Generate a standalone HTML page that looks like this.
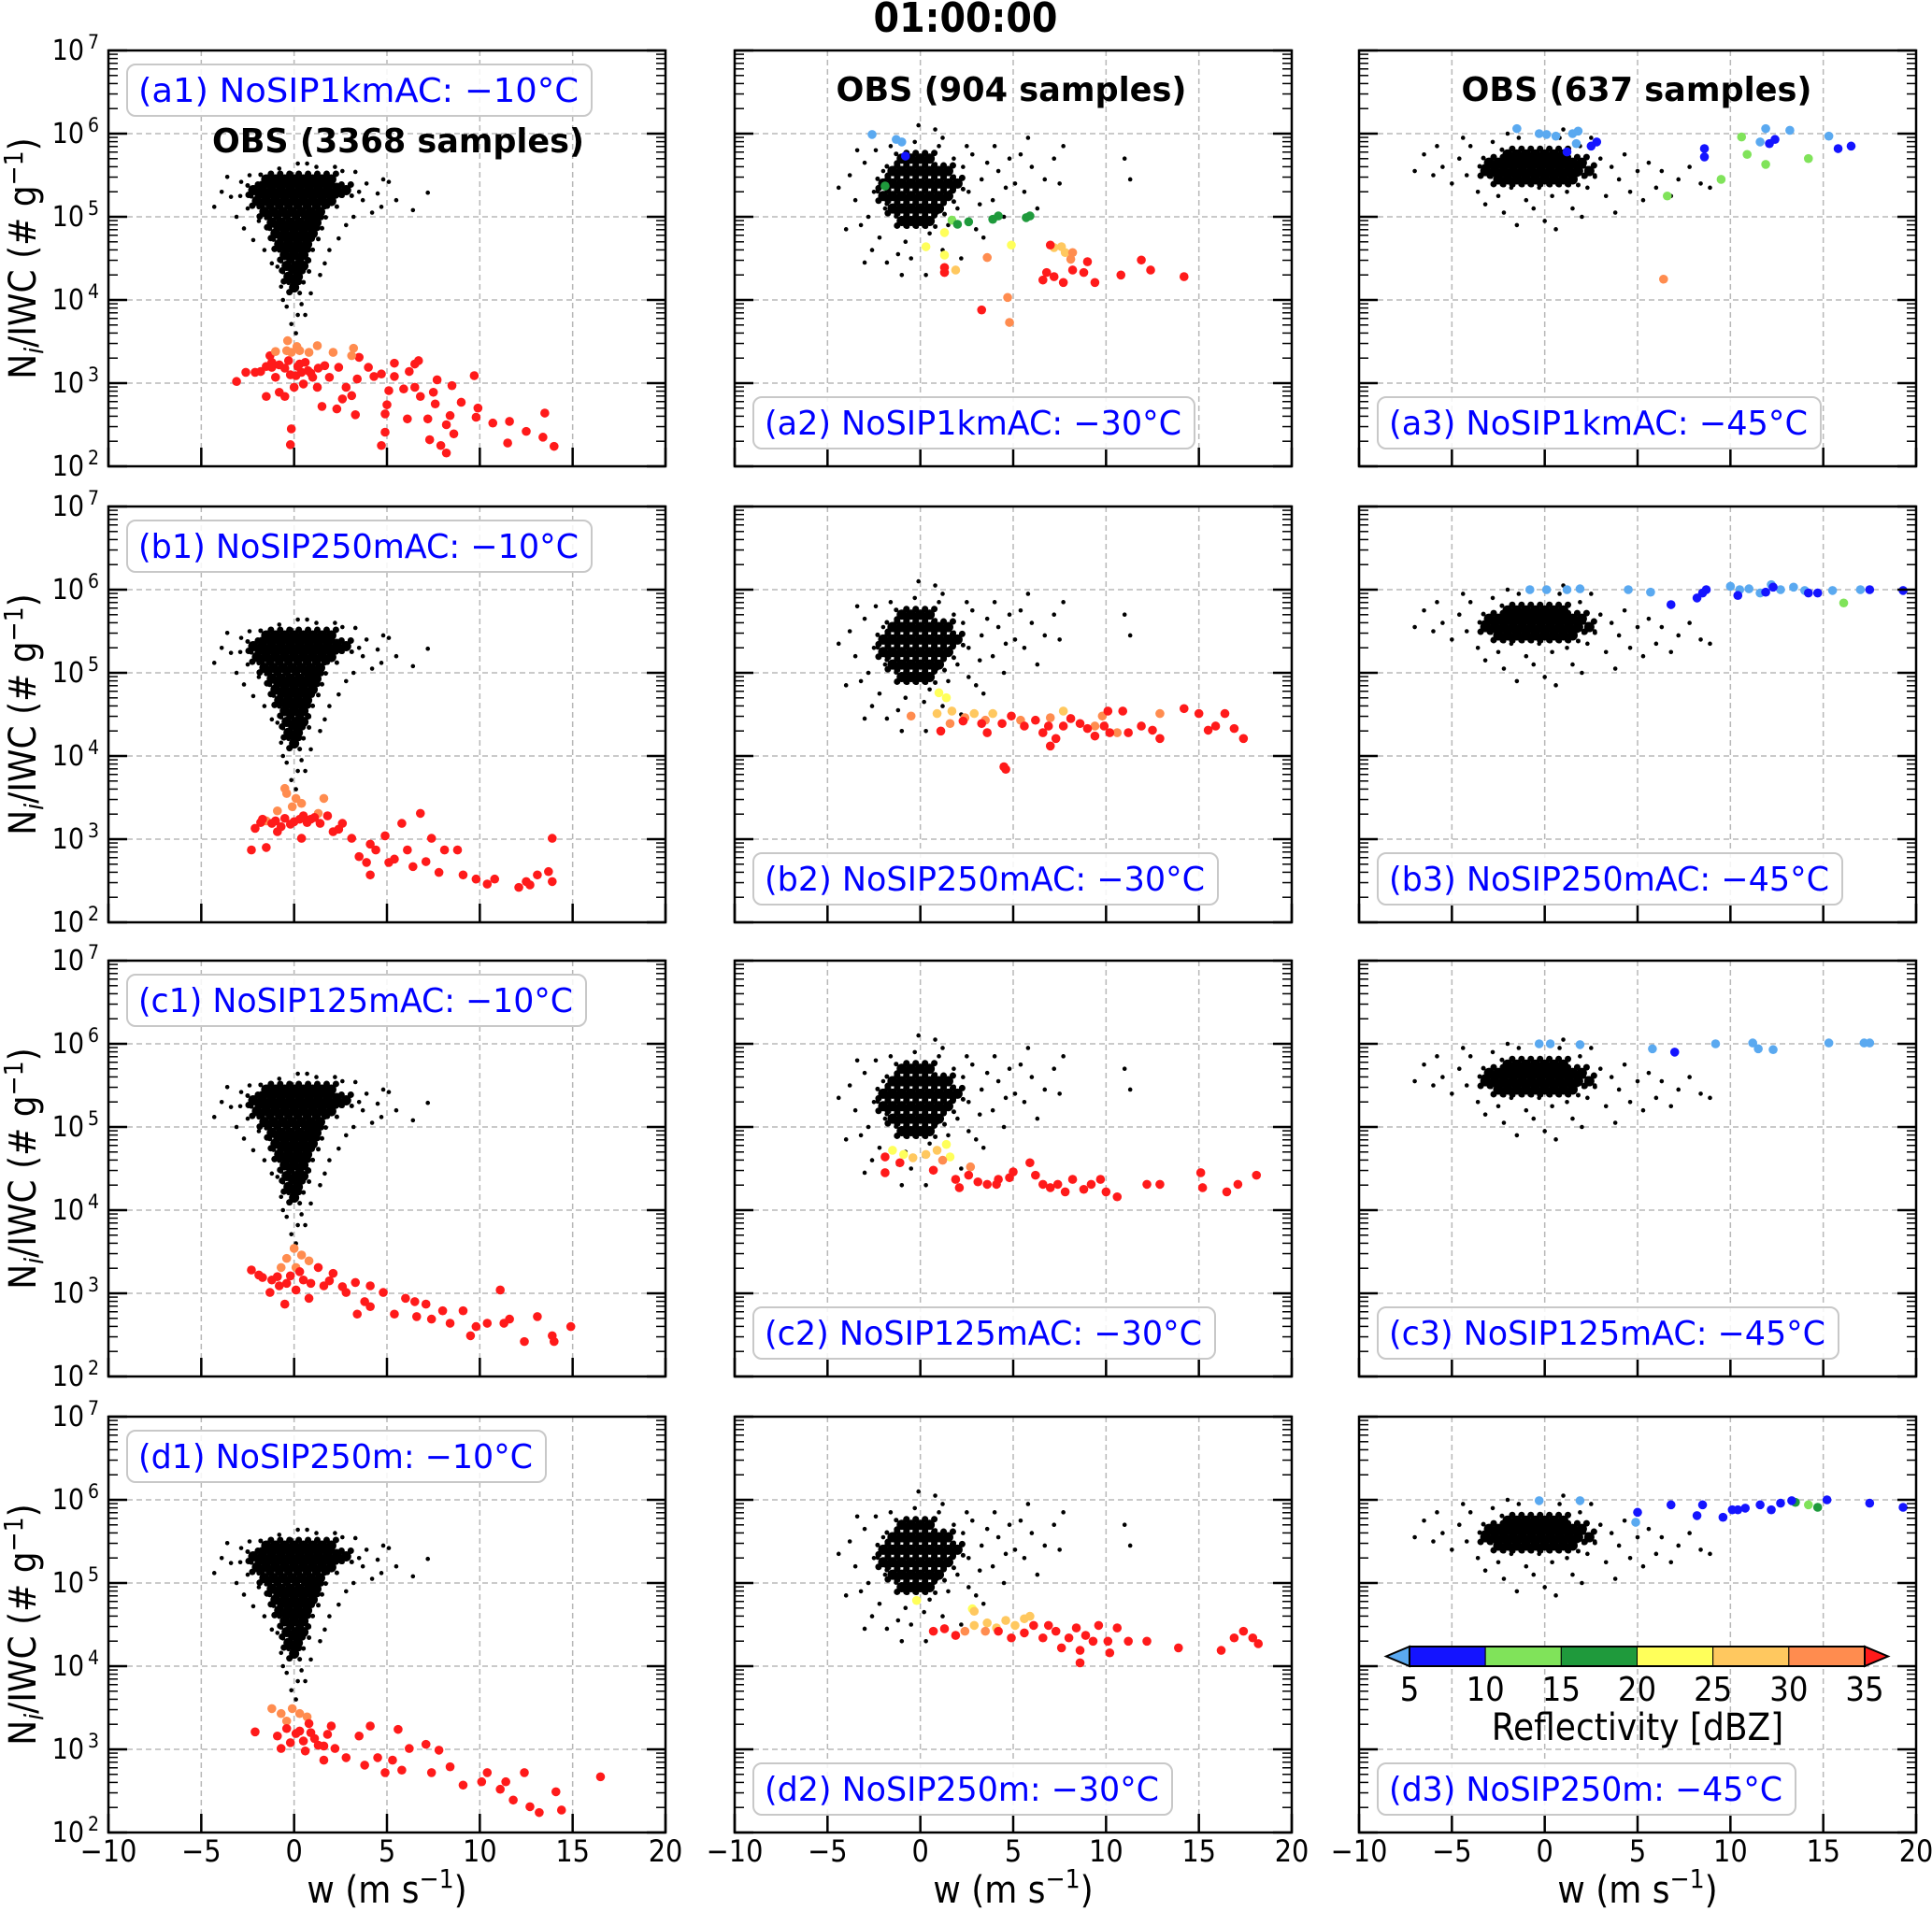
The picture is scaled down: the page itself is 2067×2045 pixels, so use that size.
<!DOCTYPE html>
<html><head><meta charset="utf-8">
<style>
html,body{margin:0;padding:0;background:#fff}
svg{display:block}
text{font-family:"DejaVu Sans Condensed","DejaVu Sans","Liberation Sans",sans-serif}
</style></head>
<body>
<svg id="fig" width="2067" height="2045" viewBox="0 0 2067 2045" xmlns="http://www.w3.org/2000/svg">
<text x="1033" y="34" text-anchor="middle" font-size="44" font-weight="bold">01:00:00</text>
</svg>
<script>
// ---------- axis data ----------
const xTicks = [-10,-5,0,5,10,15,20];
const xTickLabels = ["\u221210","\u22125","0","5","10","15","20"];
const yDecades = [2,3,4,5,6,7];
const cbBounds = [5,10,15,20,25,30,35];
const cbColors = ["#1414ff","#80e35a","#1f9a3c","#ffff5a","#ffc85f","#ff8c4f"];
const cbUnder = "#5aa9f0";
const cbOver = "#ff1a1a";
const panelLabels = [
 ["(a1) NoSIP1kmAC: \u221210\u00b0C","(a2) NoSIP1kmAC: \u221230\u00b0C","(a3) NoSIP1kmAC: \u221245\u00b0C"],
 ["(b1) NoSIP250mAC: \u221210\u00b0C","(b2) NoSIP250mAC: \u221230\u00b0C","(b3) NoSIP250mAC: \u221245\u00b0C"],
 ["(c1) NoSIP125mAC: \u221210\u00b0C","(c2) NoSIP125mAC: \u221230\u00b0C","(c3) NoSIP125mAC: \u221245\u00b0C"],
 ["(d1) NoSIP250m: \u221210\u00b0C","(d2) NoSIP250m: \u221230\u00b0C","(d3) NoSIP250m: \u221245\u00b0C"]];
const obsLabels = ["OBS (3368 samples)","OBS (904 samples)","OBS (637 samples)"];

// ---------- OBS data: [w, log10(Ni/IWC)] ----------
const obsCore10 = [
[-1.5,5.45],[-1,5.45],[-0.5,5.45],[0,5.45],[0.5,5.45],[1,5.45],[1.5,5.45],[2,5.45],
[-2.2,5.32],[-1.7,5.32],[-1.2,5.32],[-0.7,5.32],[-0.2,5.32],[0.3,5.32],[0.8,5.32],[1.3,5.32],[1.8,5.32],[2.3,5.32],[2.8,5.32],
[-2,5.19],[-1.5,5.19],[-1,5.19],[-0.5,5.19],[0,5.19],[0.5,5.19],[1,5.19],[1.5,5.19],[2,5.19],
[-1.6,5.06],[-1.1,5.06],[-0.6,5.06],[-0.1,5.06],[0.4,5.06],[0.9,5.06],[1.4,5.06],
[-1.2,4.93],[-0.7,4.93],[-0.2,4.93],[0.3,4.93],[0.8,4.93],[1.2,4.93],
[-1,4.8],[-0.5,4.8],[0,4.8],[0.5,4.8],[1,4.8],
[-0.8,4.67],[-0.3,4.67],[0.2,4.67],[0.7,4.67],
[-0.5,4.54],[0,4.54],[0.5,4.54],[-0.4,4.41],[0.1,4.41],[0.5,4.41],[-0.3,4.28],[0.2,4.28],[0,4.15]];
const obsScatter10 = [
[-4.3,5.12],[-3.9,5.3],[-3.6,5.48],[-3.4,5.24],[-2.85,5.42],[-2.7,4.86],[-2.5,5.1],[-2.2,4.72],[-1.2,4.44],[-0.9,4.4],
[-0.7,4.16],[-0.4,3.92],[-0.15,3.71],[0.2,3.82],[0.6,3.82],[0.9,4.08],[1.65,4.44],[2.4,4.74],[3.2,5.0],[3.7,5.2],
[4.5,5.28],[5.1,5.42],[4.7,5.12],[6.4,5.08],[7.2,5.29],[0.2,5.64],[0.7,5.64],[2.2,5.6],[3.3,5.54],[-0.15,5.52],
[-1.4,5.44],[-2.4,5.5],[3.9,5.4],[4.2,5.05],[2.8,4.9],[1.9,4.6],[-1.6,4.6],[-1.9,4.95],[1.4,4.3],[-0.6,4.0],
[0.4,3.95],[0.1,3.6],[-3.1,5.0],[3.5,5.3],[4.8,5.45],[2.6,5.55],[-0.8,5.58],[1.2,5.6],[-2.9,5.25],[5.5,5.2]];
const obsCore30 = [
[-1,5.7],[-0.5,5.7],[0,5.7],[0.5,5.7],
[-1.5,5.55],[-1,5.55],[-0.5,5.55],[0,5.55],[0.5,5.55],[1,5.55],[1.5,5.55],
[-2,5.4],[-1.5,5.4],[-1,5.4],[-0.5,5.4],[0,5.4],[0.5,5.4],[1,5.4],[1.5,5.4],[2,5.4],
[-2,5.25],[-1.5,5.25],[-1,5.25],[-0.5,5.25],[0,5.25],[0.5,5.25],[1,5.25],[1.5,5.25],
[-1.5,5.1],[-1,5.1],[-0.5,5.1],[0,5.1],[0.5,5.1],[1,5.1],
[-1,4.95],[-0.5,4.95],[0,4.95],[0.5,4.95]];
const obsScatter30 = [
[-4.4,5.35],[-3.8,5.5],[-3.5,5.2],[-3,5.65],[-3.2,4.9],[-2.8,5.0],[-2.6,4.6],[-2.4,5.8],[-2.2,4.75],[-1.8,4.45],
[-1.6,5.85],[-1.2,4.55],[-0.8,4.7],[-0.5,4.5],[-0.3,5.9],[0.2,4.65],[0.5,4.8],[0.8,6.05],[1,5.85],[1.2,4.6],
[1.5,4.9],[1.8,5.7],[2,5.1],[2.3,5.6],[2.6,5.3],[2.8,5.75],[3,4.85],[3.3,5.45],[3.6,5.65],[3.9,5.2],
[4.2,5.55],[4.5,5.0],[4.8,5.7],[5.1,5.4],[5.4,5.75],[5.6,5.3],[6,5.6],[6.3,5.1],[7.2,5.7],[7.5,5.4],
[7.7,5.85],[3.4,4.75],[2.2,4.5],[-1,4.3],[0.3,4.3],[1.2,5.95],[-0.1,6.1],[4,5.85],[5.8,5.95],[-2,5.55],
[-2.5,5.3],[2.5,5.85],[3.2,5.15],[4.6,5.35],[1.6,5.3],[0.9,5.05],[-1.9,5.1],[6.7,5.45],[-3.4,5.8],[2.6,4.95],
[11,5.7],[11.3,5.45],[-4.0,4.85],[-3.0,4.45]];
const obsCore45 = [
[-2,5.75],[-1.5,5.75],[-1,5.75],[-0.5,5.75],[0,5.75],[0.5,5.75],[1,5.75],
[-3,5.65],[-2.5,5.65],[-2,5.65],[-1.5,5.65],[-1,5.65],[-0.5,5.65],[0,5.65],[0.5,5.65],[1,5.65],[1.5,5.65],[2,5.65],
[-3.2,5.55],[-2.7,5.55],[-2.2,5.55],[-1.7,5.55],[-1.2,5.55],[-0.7,5.55],[-0.2,5.55],[0.3,5.55],[0.8,5.55],[1.3,5.55],[1.8,5.55],[2.4,5.55],
[-2.5,5.45],[-2,5.45],[-1.5,5.45],[-1,5.45],[-0.5,5.45],[0,5.45],[0.5,5.45],[1,5.45],[1.5,5.45]];
const obsScatter45 = [
[-7,5.55],[-6.5,5.75],[-6,5.5],[-5.5,5.6],[-5,5.4],[-4.6,5.7],[-4.2,5.5],[-4,5.85],[-3.6,5.3],[-3.2,5.15],
[-2.8,5.9],[-2.5,5.25],[-2.2,5.05],[-1.8,5.35],[-1.4,5.95],[-1,5.2],[-0.6,5.1],[-0.3,5.35],[0,4.95],[0.4,5.25],
[0.8,5.95],[1.2,5.3],[1.5,5.1],[1.9,5.85],[2.3,5.35],[2.7,5.5],[3,5.7],[3.3,5.25],[3.6,5.6],[4,5.45],
[4.3,5.75],[4.6,5.3],[5,5.55],[5.3,5.2],[5.6,5.65],[6,5.35],[6.3,5.55],[6.8,5.25],[7.2,5.45],[7.8,5.6],
[8.4,5.4],[8.9,5.35],[-5.8,5.85],[3.8,5.05],[2,5.0],[-1.5,4.9],[0.6,4.85],[-4.4,5.95],[1,6.05],[-2,6.0],[2.5,5.95]];

// ---------- model data: [w, log10(Ni/IWC), dBZ] ----------
const modelA1 = [
[-3.1,3.02,38],[-2.6,3.13,38],[-2.1,3.13,38],[-1.8,3.14,38],[-1.5,2.84,38],[-1.3,3.33,38],[-1.2,3.19,38],[-1,3.07,38],[-0.8,2.89,38],[-0.5,2.84,38],
[-0.3,3.27,38],[-0.15,2.45,38],[-0.2,2.26,38],[0,2.95,38],[0.1,3.09,38],[0.3,3.23,38],[0.5,2.99,38],[0.75,3.15,38],[1,3.07,38],[1.25,2.95,38],
[1.5,2.72,38],[1.65,3.21,38],[1.9,3.07,38],[2.3,2.69,38],[2.4,3.19,38],[2.6,2.81,38],[2.8,2.95,38],[3.1,2.85,38],[3.3,2.62,38],[3.4,3.05,38],
[3.5,3.31,38],[4,3.19,38],[4.3,3.08,38],[4.7,3.11,38],[4.9,2.63,38],[4.9,2.41,38],[5,2.74,38],[5.1,2.91,38],[4.7,2.25,38],[5.4,3.24,38],
[5.4,3.08,38],[5.9,2.93,38],[6.1,2.57,38],[6.2,3.14,38],[6.5,2.95,38],[6.5,3.23,38],[6.7,3.27,38],[6.8,2.84,38],[7.2,2.57,38],[7.3,2.32,38],
[7.5,2.89,38],[7.7,3.04,38],[7.6,2.75,38],[7.9,2.25,38],[8.2,2.16,38],[8.2,2.5,38],[8.4,2.61,38],[8.5,2.97,38],[8.6,2.39,38],[9,2.77,38],
[9.7,3.09,38],[9.8,2.59,38],[9.9,2.7,38],[10.7,2.52,38],[11.5,2.28,38],[11.6,2.54,38],[12.5,2.42,38],[13.4,2.35,38],[13.5,2.64,38],[14,2.24,38],
[-1.2,3.25,38],[-0.8,3.22,38],[-0.5,3.18,38],[0.2,3.2,38],[0.6,3.25,38],[1.3,3.18,38],[-1.5,3.2,38],[0.9,3.12,38],[-0.2,3.1,38],[0.4,3.13,38],
[-1,3.38,32],[-0.35,3.51,32],[-0.15,3.37,32],[0.15,3.44,32],[0.3,3.39,32],[0.8,3.37,32],[1.25,3.45,32],[2.1,3.37,32],[3.2,3.42,32],[3.1,3.33,32],[-0.4,3.39,32]];
const modelA2 = [
[-2.6,5.99,3],[-1.3,5.93,3],[-1,5.9,3],[-0.8,5.73,7],[-1.9,5.37,17],[1.7,4.96,12],[2,4.91,17],[2.6,4.94,17],[3.9,4.97,17],[4.2,5.01,17],
[5.7,4.99,17],[5.9,5.01,17],[1.3,4.81,22],[1.3,4.54,22],[0.3,4.64,22],[4.9,4.66,22],[7.6,4.64,27],[7.8,4.57,27],[1.9,4.36,27],[3.6,4.51,32],
[7.2,4.63,27],[8.2,4.57,32],[8.1,4.49,32],[1.3,4.39,38],[1.3,4.33,38],[3.3,3.88,38],[4.7,4.03,32],[4.8,3.73,32],[7,4.66,38],[6.6,4.24,38],
[6.8,4.33,38],[7.2,4.28,38],[7.7,4.21,38],[8.2,4.36,38],[8.8,4.33,38],[9,4.46,38],[9.4,4.21,38],[10.8,4.3,38],[11.9,4.48,38],[12.4,4.36,38],[14.2,4.28,38]];
const modelA3 = [
[-1.5,6.06,3],[-0.3,6,3],[0.1,5.99,3],[0.6,5.97,3],[1.5,6,3],[1.8,6.03,3],[1.2,5.78,7],[2.5,5.85,7],[2.8,5.9,7],[1.7,5.88,3],
[8.6,5.82,7],[8.6,5.72,7],[10.6,5.96,12],[10.9,5.75,12],[11.6,5.9,3],[11.9,6.06,3],[12.1,5.88,7],[12.4,5.93,7],[13.2,6.04,3],[11.9,5.63,12],
[14.2,5.7,12],[15.3,5.97,3],[15.8,5.82,7],[16.5,5.85,7],[9.5,5.45,12],[6.6,5.25,12],[6.4,4.25,32]];
const modelB1 = [
[-0.4,3.55,32],[0.1,3.49,32],[-0.1,3.39,32],[0.4,3.43,32],[-0.9,3.34,32],[1.3,3.31,32],[-1.5,3.22,32],[1.6,3.49,32],[-0.5,3.61,32],
[-2.3,2.87,38],[-2.1,3.13,38],[-1.7,3.24,38],[-1.2,3.19,38],[-0.9,3.09,38],[-0.5,3.25,38],[0,3.21,38],[0.5,3.28,38],[0.9,3.24,38],[1.4,3.19,38],
[1.8,3.28,38],[2.1,3.09,38],[2.6,3.19,38],[3.1,3.01,38],[3.5,2.79,38],[3.9,2.72,38],[4.1,2.94,38],[4.4,2.87,38],[4.9,3.04,38],[5.4,2.76,38],
[5.8,3.19,38],[6.1,2.87,38],[6.4,2.67,38],[6.8,3.31,38],[7.1,2.73,38],[7.4,3.01,38],[7.8,2.6,38],[8.1,2.87,38],[8.8,2.87,38],[9.1,2.57,38],
[9.8,2.52,38],[10.4,2.46,38],[10.8,2.52,38],[12.1,2.42,38],[12.5,2.49,38],[12.7,2.45,38],[13.1,2.57,38],[13.7,2.61,38],[13.9,3.01,38],[13.9,2.49,38],
[0.4,3.01,38],[-1.5,2.9,38],[4.1,2.57,38],[5.1,2.72,38],
[-1.8,3.2,38],[-1.0,3.22,38],[-0.2,3.18,38],[0.7,3.2,38],[1.1,3.26,38],[-0.7,3.15,38],[0.3,3.24,38],[2.4,3.12,38]];
const modelB2 = [
[-0.5,4.48,32],[0.9,4.51,27],[1.7,4.54,27],[2.4,4.46,32],[2.9,4.51,27],[3.5,4.43,32],[3.9,4.51,27],[1.6,4.39,32],[5.4,4.43,32],[7,4.46,32],
[7.7,4.54,27],[9.4,4.36,32],[9.8,4.48,32],[10.6,4.28,32],[12.9,4.51,32],[1,4.76,22],[1.4,4.7,22],
[1.1,4.3,38],[2.3,4.42,38],[3.3,4.39,38],[3.6,4.28,38],[4.4,4.39,38],[4.9,4.48,38],[5.6,4.36,38],[6.2,4.43,38],[6.6,4.28,38],
[6.9,4.36,38],[7.3,4.21,38],[7.7,4.36,38],[8.1,4.45,38],[8.6,4.39,38],[9,4.33,38],[9.4,4.24,38],[9.9,4.36,38],[10.1,4.54,38],[10.2,4.28,38],
[10.9,4.54,38],[11.2,4.28,38],[11.9,4.36,38],[12.5,4.31,38],[12.9,4.21,38],[14.2,4.57,38],[15,4.51,38],[15.5,4.31,38],[15.9,4.36,38],[16.4,4.51,38],
[16.9,4.33,38],[17.4,4.21,38],[4.5,3.87,38],[4.6,3.84,38],[7,4.12,38]];
const modelB3 = [
[-0.8,6,3],[0.1,6,3],[1.2,6,3],[1.9,6.01,3],[4.5,6,3],[5.7,5.97,3],[10,6.04,3],[10.5,6,3],[11,6.01,3],[11.6,5.96,3],
[12.2,6.06,3],[12.7,6,3],[13.4,6.03,3],[14,5.99,3],[15.5,5.99,3],[17,6,3],
[6.8,5.82,7],[8.2,5.9,7],[8.7,6,7],[8.5,5.96,7],[12.3,6.03,7],[14.2,5.96,7],[14.7,5.96,7],[17.5,6,7],[19.3,5.99,7],[10.4,5.93,7],[11.9,5.97,7],
[16.1,5.84,12]];
const modelC1 = [
[0,3.54,32],[0.4,3.46,32],[-0.4,3.42,32],[-0.7,3.31,32],[0.8,3.39,32],[0.1,3.31,32],
[-2.3,3.28,38],[-1.7,3.19,38],[-1.2,3.16,38],[-0.8,3.09,38],[-0.2,3.21,38],[0.5,3.16,38],[0.1,3.04,38],[1.3,3.31,38],[1.6,3.09,38],[2.1,3.24,38],
[2.8,3.01,38],[3.3,3.13,38],[3.8,2.9,38],[4.1,2.84,38],[4.8,3.01,38],[5.4,2.75,38],[6,2.94,38],[6.6,2.72,38],[7.1,2.87,38],[7.4,2.69,38],
[8,2.79,38],[8.4,2.64,38],[9.1,2.79,38],[9.8,2.6,38],[10.4,2.64,38],[11.1,3.04,38],[11.3,2.64,38],[11.6,2.69,38],[12.4,2.42,38],[13.1,2.72,38],
[13.9,2.49,38],[14,2.42,38],[14.9,2.6,38],[-0.5,2.87,38],[-1.3,3.01,38],[0.8,2.94,38],[4.1,3.09,38],[6.5,2.9,38],[3.4,2.75,38],[9.5,2.49,38],
[-1.9,3.22,38],[-0.9,3.2,38],[0.3,3.26,38],[0.9,3.12,38],[-0.4,3.12,38],[1.9,3.15,38],[2.6,3.08,38]];
const modelC2 = [
[-1.5,4.72,22],[-0.9,4.67,22],[1.4,4.79,22],[1.6,4.64,22],[-0.4,4.63,27],[0.3,4.67,27],[1.2,4.6,32],[2.7,4.52,32],[0.9,4.72,27],
[-1.9,4.64,38],[-1.9,4.45,38],[-1.1,4.57,38],[0.7,4.48,38],[1.9,4.37,38],[2.1,4.27,38],[2.6,4.42,38],[3.1,4.34,38],[3.6,4.31,38],[4.2,4.37,38],
[4.8,4.39,38],[5.9,4.57,38],[6.2,4.42,38],[6.6,4.31,38],[7,4.27,38],[7.4,4.31,38],[7.8,4.22,38],[8.2,4.37,38],[8.8,4.25,38],[9.2,4.31,38],
[9.7,4.37,38],[10,4.22,38],[10.6,4.16,38],[12.2,4.31,38],[12.9,4.31,38],[15.1,4.45,38],[15.2,4.27,38],[16.5,4.22,38],[17.1,4.31,38],[18.1,4.42,38],
[5,4.46,38],[4.1,4.31,38]];
const modelD1 = [
[-1.2,3.49,32],[-0.7,3.43,32],[-0.1,3.49,32],[0.3,3.43,32],[-0.4,3.34,32],[0.7,3.39,32],
[-2.1,3.21,38],[-0.9,3.16,38],[-0.4,3.25,38],[0.1,3.19,38],[0.5,3.1,38],[0.8,3.31,38],[1.1,3.13,38],[1.6,3.04,38],[2,3.28,38],[2.2,3.01,38],
[2.8,2.9,38],[3.5,3.16,38],[3.8,2.81,38],[4.1,3.28,38],[4.5,2.9,38],[4.9,2.72,38],[5.3,2.87,38],[5.6,3.24,38],[5.8,2.75,38],[6.2,3.01,38],
[7.1,3.06,38],[7.4,2.72,38],[7.8,2.99,38],[8.4,2.79,38],[9.1,2.57,38],[10.1,2.61,38],[10.4,2.72,38],[11.1,2.52,38],[11.4,2.61,38],[11.8,2.39,38],
[12.4,2.72,38],[12.7,2.31,38],[13.2,2.24,38],[14.1,2.49,38],[14.4,2.27,38],[16.5,2.67,38],[-0.7,3.01,38],[1.6,2.87,38],
[0.3,3.22,38],[0.9,3.2,38],[1.3,3.05,38],[-0.2,3.08,38],[0.6,2.98,38],[1.8,3.18,38]];
const modelD2 = [
[-0.2,4.79,22],[2.8,4.69,22],[2.9,4.49,27],[3.6,4.52,27],[4.1,4.46,27],[4.6,4.55,27],[5.1,4.49,27],[5.6,4.57,27],[5.9,4.6,27],[2.9,4.66,27],
[2.4,4.42,32],[3.5,4.42,32],
[0.7,4.42,38],[1.3,4.45,38],[1.9,4.37,38],[4.2,4.42,38],[4.9,4.34,38],[5.6,4.4,38],[6.1,4.49,38],[6.6,4.34,38],[6.9,4.49,38],[7.3,4.42,38],
[7.6,4.22,38],[8,4.34,38],[8.4,4.46,38],[8.6,4.19,38],[8.9,4.37,38],[9.3,4.3,38],[9.6,4.49,38],[10.1,4.3,38],[10.2,4.16,38],[10.6,4.46,38],
[11.2,4.3,38],[12.2,4.3,38],[13.9,4.22,38],[16.2,4.19,38],[16.9,4.34,38],[17.4,4.42,38],[17.9,4.34,38],[18.2,4.27,38],[8.6,4.04,38]];
const modelC3 = [
[-0.3,6,3],[0.3,6,3],[1.9,5.99,3],[5.8,5.94,3],[9.2,6,3],[11.2,6.01,3],[11.5,5.94,3],[12.3,5.93,3],[15.3,6.01,3],[17.2,6.01,3],[17.5,6.01,3],
[7,5.9,7]];
const modelD3 = [
[-0.3,5.99,3],[1.9,5.99,3],[5,5.85,7],[4.9,5.73,3],[6.8,5.94,7],[8.2,5.81,7],[8.5,5.94,7],[9.6,5.79,7],[10.4,5.88,7],[10.8,5.9,7],
[11.6,5.94,7],[12.2,5.88,7],[12.7,5.96,7],[13.5,5.97,17],[14.2,5.94,12],[14.7,5.91,17],[15.2,6,7],[17.5,5.96,7],[19.3,5.91,7],[10.1,5.88,7],[13.3,5.99,7]];

// ---------- layout ----------
const colLeft = [116,786,1454];
const rowTop = [54,542,1028,1516];
const PW = 596, PH = 445;
const labelBoxW = [[497,472,474],[497,497,497],[491,494,493],[448,448,447]];
const NS = "http://www.w3.org/2000/svg";
const svg = document.getElementById('fig');

function xs(w,c){ return colLeft[c] + (w - (-10)) / 30 * PW; }
function ys(l,r){ return rowTop[r] + (7 - l) / 5 * PH; }
function colorFor(z){
  if (z < cbBounds[0]) return cbUnder;
  for (let i=0;i<cbColors.length;i++){ if (z < cbBounds[i+1]) return cbColors[i]; }
  return cbOver;
}
function mk(tag, attrs, parent){
  const e = document.createElementNS(NS, tag);
  for (const k in attrs) e.setAttribute(k, attrs[k]);
  (parent||svg).appendChild(e);
  return e;
}

const obsCores = [obsCore10, obsCore30, obsCore45];
const obsScatters = [obsScatter10, obsScatter30, obsScatter45];
const models = [[modelA1,modelA2,modelA3],[modelB1,modelB2,modelB3],[modelC1,modelC2,modelC3],[modelD1,modelD2,modelD3]];
const rowKeys = ['a','b','c','d'];
// rendering offsets (px) used to give the dense obs core a speckled look
const speckle = [[0,0,5.5],[5,-6,3.5],[-5,5,3.5],[6,6,2.5],[-6,-5,2.5]];

for (let r=0;r<4;r++){
  for (let c=0;c<3;c++){
    const L = colLeft[c], T = rowTop[r];
    const g = mk('g', {});
    
    
    // grid
    xTicks.forEach(t=>{ if (t>-10 && t<20){
      const ln = mk('line',{x1:xs(t,c),x2:xs(t,c),y1:T,y2:T+PH,stroke:'#b8b8b8','stroke-width':1.5,'stroke-dasharray':'6,4'},g);
      
      
    }});
    yDecades.forEach(d=>{ if (d>2 && d<7){
      const ln = mk('line',{x1:L,x2:L+PW,y1:ys(d,r),y2:ys(d,r),stroke:'#b8b8b8','stroke-width':1.5,'stroke-dasharray':'6,4'},g);
      
      
    }});
    // obs
    obsCores[c].forEach(p=>{
      const cx = xs(p[0],c), cy = ys(p[1],r);
      speckle.forEach(s=>{
        const e = mk('circle',{cx:cx+s[0],cy:cy+s[1],r:s[2],fill:'#000'},g);
        
        
      });
    });
    obsScatters[c].forEach(p=>{
      const e = mk('circle',{cx:xs(p[0],c),cy:ys(p[1],r),r:2.3,fill:'#000'},g);
      
      
    });
    // model
    models[r][c].forEach(p=>{
      const e = mk('circle',{cx:xs(p[0],c),cy:ys(p[1],r),r:4.8,fill:colorFor(p[2])},g);
      
      
    });
    // ticks
    yDecades.forEach((d,i)=>{
      [L, L+PW].forEach(xx=>{
        const dir = xx===L?1:-1;
        const t = mk('line',{x1:xx,x2:xx+dir*20,y1:ys(d,r),y2:ys(d,r),stroke:'#000','stroke-width':2.5},g);
        
        
        if (d<7){
          for (let m=2;m<=9;m++){
            const yy = ys(d+Math.log10(m),r);
            const mt = mk('line',{x1:xx,x2:xx+dir*10,y1:yy,y2:yy,stroke:'#000','stroke-width':1.5},g);
            
            
          }
        }
      });
    });
    xTicks.forEach(t=>{
      const tk = mk('line',{x1:xs(t,c),x2:xs(t,c),y1:T+PH,y2:T+PH-20,stroke:'#000','stroke-width':2.5},g);
      
      
    });
    // frame
    const fr = mk('rect',{x:L,y:T,width:PW,height:PH,fill:'none',stroke:'#000','stroke-width':2.5},g);
    
    
    // y tick labels
    if (c===0){
      yDecades.forEach(d=>{
        const tx = mk('text',{x:L-26,y:ys(d,r)+10,'text-anchor':'end','font-size':30},g);
        tx.textContent = '10';
        
        
        const sp = mk('text',{x:L-10,y:ys(d,r)-2,'text-anchor':'end','font-size':21},g);
        sp.textContent = String(d);
        
        
      });
      const yt = mk('text',{x:38,y:T+PH/2,'text-anchor':'middle','font-size':40,transform:'rotate(-90 38 '+(T+PH/2)+')'},g);
      yt.innerHTML = 'N<tspan font-style="italic" font-size="28" dy="8">i</tspan><tspan dy="-8">/IWC (# g</tspan><tspan font-size="28" dy="-14">\u22121</tspan><tspan dy="14">)</tspan>';
      
      
    }
    // x tick labels
    if (r===3){
      xTicks.forEach((t,i)=>{
        const tx = mk('text',{x:xs(t,c),y:T+PH+31,'text-anchor':'middle','font-size':32},g);
        tx.textContent = xTickLabels[i];
        
        
      });
      const xt = mk('text',{x:L+PW/2,y:2036,'text-anchor':'middle','font-size':40},g);
      xt.innerHTML = 'w (m s<tspan font-size="28" dy="-16">\u22121</tspan><tspan dy="16">)</tspan>';
      
      
    }
    // label box
    const bx = L + 20;
    const by = (c===0) ? T+15 : T+PH-74;
    const bw = labelBoxW[r][c];
    const bg = mk('rect',{x:bx,y:by,width:bw,height:55,rx:9,fill:'#fff','fill-opacity':0.85,stroke:'#c8c8c8','stroke-width':2},g);
    
    
    const lt = mk('text',{x:bx+12,y:by+40,'font-size':36,fill:'#0000ff',textLength:bw-26,lengthAdjust:'spacingAndGlyphs'},g);
    lt.textContent = panelLabels[r][c];
    
    
    if (r===0){
      const ox = [426,1082,1751][c], oy = [163,108,108][c], ow = [398,375,375][c];
      const ot = mk('text',{x:ox,y:oy,'text-anchor':'middle','font-size':36,'font-weight':'bold',textLength:ow,lengthAdjust:'spacingAndGlyphs'},g);
      ot.textContent = obsLabels[c];
      
      
    }
  }
}

// ---------- colorbar ----------
const cbX0 = 1508, cbX1 = 1995, cbY0 = 1762, cbY1 = 1783;
const cbg = mk('g',{});


function cbx(v){ return cbX0 + (v - cbBounds[0])/(cbBounds[cbBounds.length-1]-cbBounds[0])*(cbX1-cbX0); }
const ul = mk('polygon',{points:`${cbX0},${cbY0} ${cbX0},${cbY1} ${cbX0-25},${(cbY0+cbY1)/2}`,fill:cbUnder,stroke:'#000','stroke-width':2},cbg);


const ol = mk('polygon',{points:`${cbX1},${cbY0} ${cbX1},${cbY1} ${cbX1+25},${(cbY0+cbY1)/2}`,fill:cbOver,stroke:'#000','stroke-width':2},cbg);


cbColors.forEach((col,i)=>{
  const rc = mk('rect',{x:cbx(cbBounds[i]),y:cbY0,width:cbx(cbBounds[i+1])-cbx(cbBounds[i]),height:cbY1-cbY0,fill:col,stroke:'#000','stroke-width':1},cbg);
  
  
});
const cbf = mk('rect',{x:cbX0,y:cbY0,width:cbX1-cbX0,height:cbY1-cbY0,fill:'none',stroke:'#000','stroke-width':2},cbg);


cbBounds.forEach(v=>{
  const t = mk('text',{x:cbx(v),y:1820,'text-anchor':'middle','font-size':36},cbg);
  t.textContent = String(v);
  
  
});
const cbt = mk('text',{x:1752,y:1862,'text-anchor':'middle','font-size':40},cbg);
cbt.textContent = 'Reflectivity [dBZ]';


</script>
</body></html>
